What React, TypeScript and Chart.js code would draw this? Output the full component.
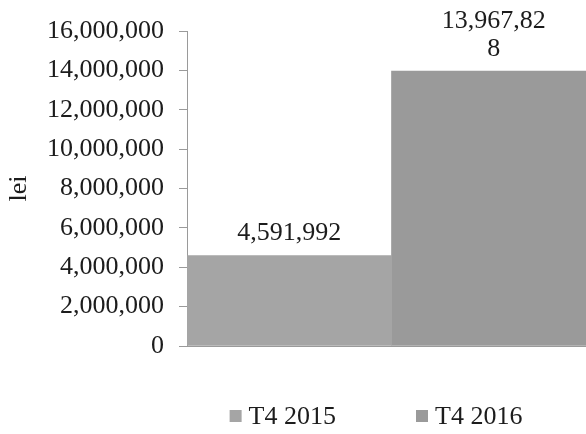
import React, { useEffect, useRef } from "react";
import { Chart, registerables } from "chart.js";

Chart.register(...registerables);

const categories = [""];
const seriesNames = ["T4 2015", "T4 2016"];
const seriesValues = [[4591992], [13967828]];
const seriesColors = ["#a5a5a5", "#9a9a9a"];
const yTicks = [0, 2000000, 4000000, 6000000, 8000000, 10000000, 12000000, 14000000, 16000000];
const yTitle = "lei";

const FONT = "'Liberation Serif', 'DejaVu Serif', serif";
const TEXT = "#1c1c1c";

function fmt(v: number) {
  return v.toLocaleString("en-US");
}

function wrap(ctx: CanvasRenderingContext2D, text: string, maxW: number) {
  const lines: string[] = [];
  let cur = "";
  for (const ch of text) {
    if (ctx.measureText(cur + ch).width > maxW && cur) {
      lines.push(cur);
      cur = ch;
    } else cur += ch;
  }
  if (cur) lines.push(cur);
  return lines;
}

const labelPlugin = {
  id: "barLabels",
  afterDatasetsDraw(chart: any) {
    const ctx = chart.ctx as CanvasRenderingContext2D;
    ctx.save();
    ctx.font = `26px ${FONT}`;
    ctx.fillStyle = TEXT;
    ctx.textAlign = "center";
    ctx.textBaseline = "middle";
    chart.data.datasets.forEach((ds: any, i: number) => {
      const meta = chart.getDatasetMeta(i);
      meta.data.forEach((el: any, j: number) => {
        const lines = wrap(ctx, fmt(ds.data[j]), 110);
        const lh = 28;
        const lastY = el.y - 22;
        lines.forEach((ln, k) => {
          ctx.fillText(ln, el.x, lastY - (lines.length - 1 - k) * lh);
        });
      });
    });
    ctx.restore();
  },
};

const legendPlugin = {
  id: "customLegend",
  afterDraw(chart: any) {
    const ctx = chart.ctx as CanvasRenderingContext2D;
    ctx.save();
    ctx.font = `26px ${FONT}`;
    ctx.textBaseline = "middle";
    ctx.textAlign = "left";
    const box = 12;
    const gap = 7;
    const itemGap = 80;
    const items = chart.data.datasets.map((ds: any) => ({
      label: ds.label as string,
      color: ds.backgroundColor as string,
      w: box + gap + ctx.measureText(ds.label).width,
    }));
    const total = items.reduce((s: number, it: any) => s + it.w, 0) + itemGap * (items.length - 1);
    const cx = 376;
    const y = 416;
    let x = cx - total / 2;
    items.forEach((it: any) => {
      ctx.fillStyle = it.color;
      ctx.fillRect(x, y - box / 2, box, box);
      ctx.fillStyle = TEXT;
      ctx.fillText(it.label, x + box + gap, y + 1);
      x += it.w + itemGap;
    });
    ctx.restore();
  },
};

export default function App() {
  const ref = useRef<HTMLCanvasElement | null>(null);
  useEffect(() => {
    if (!ref.current) return;
    const chart = new Chart(ref.current, {
      type: "bar",
      data: {
        labels: categories,
        datasets: seriesNames.map((name, i) => ({
          label: name,
          data: seriesValues[i],
          backgroundColor: seriesColors[i],
          borderWidth: 0,
          barPercentage: 1,
          categoryPercentage: 1,
        })),
      },
      options: {
        animation: false,
        responsive: false,
        layout: { padding: { left: 6, right: 4, top: 31, bottom: 80 } },
        plugins: {
          legend: { display: false },
          tooltip: { enabled: false },
        },
        scales: {
          x: {
            grid: { display: false },
            ticks: { display: false },
            border: { display: true, color: "#9a9a9a", width: 1 },
          },
          y: {
            min: 0,
            max: 16000000,
            afterBuildTicks: (scale: any) => {
              scale.ticks = yTicks.map((v) => ({ value: v }));
            },
            grid: {
              drawOnChartArea: false,
              drawTicks: true,
              tickLength: 8,
              color: "#9a9a9a",
            },
            border: { display: true, color: "#9a9a9a", width: 1 },
            ticks: {
              padding: 15,
              color: TEXT,
              font: { family: FONT, size: 26 },
              callback: (v: any) => fmt(Number(v)),
            },
            title: {
              display: true,
              text: yTitle,
              color: TEXT,
              font: { family: FONT, size: 26, lineHeight: 1 },
              padding: { top: 0, bottom: 0 },
            },
          },
        },
      },
      plugins: [labelPlugin, legendPlugin],
    });
    return () => chart.destroy();
  }, []);
  return (
    <div
      style={{
        position: "absolute",
        left: 0,
        top: 0,
        width: 586,
        height: 434,
        overflow: "hidden",
        background: "#ffffff",
      }}
    >
      <canvas ref={ref} width={600} height={434} style={{ display: "block" }} />
    </div>
  );
}
